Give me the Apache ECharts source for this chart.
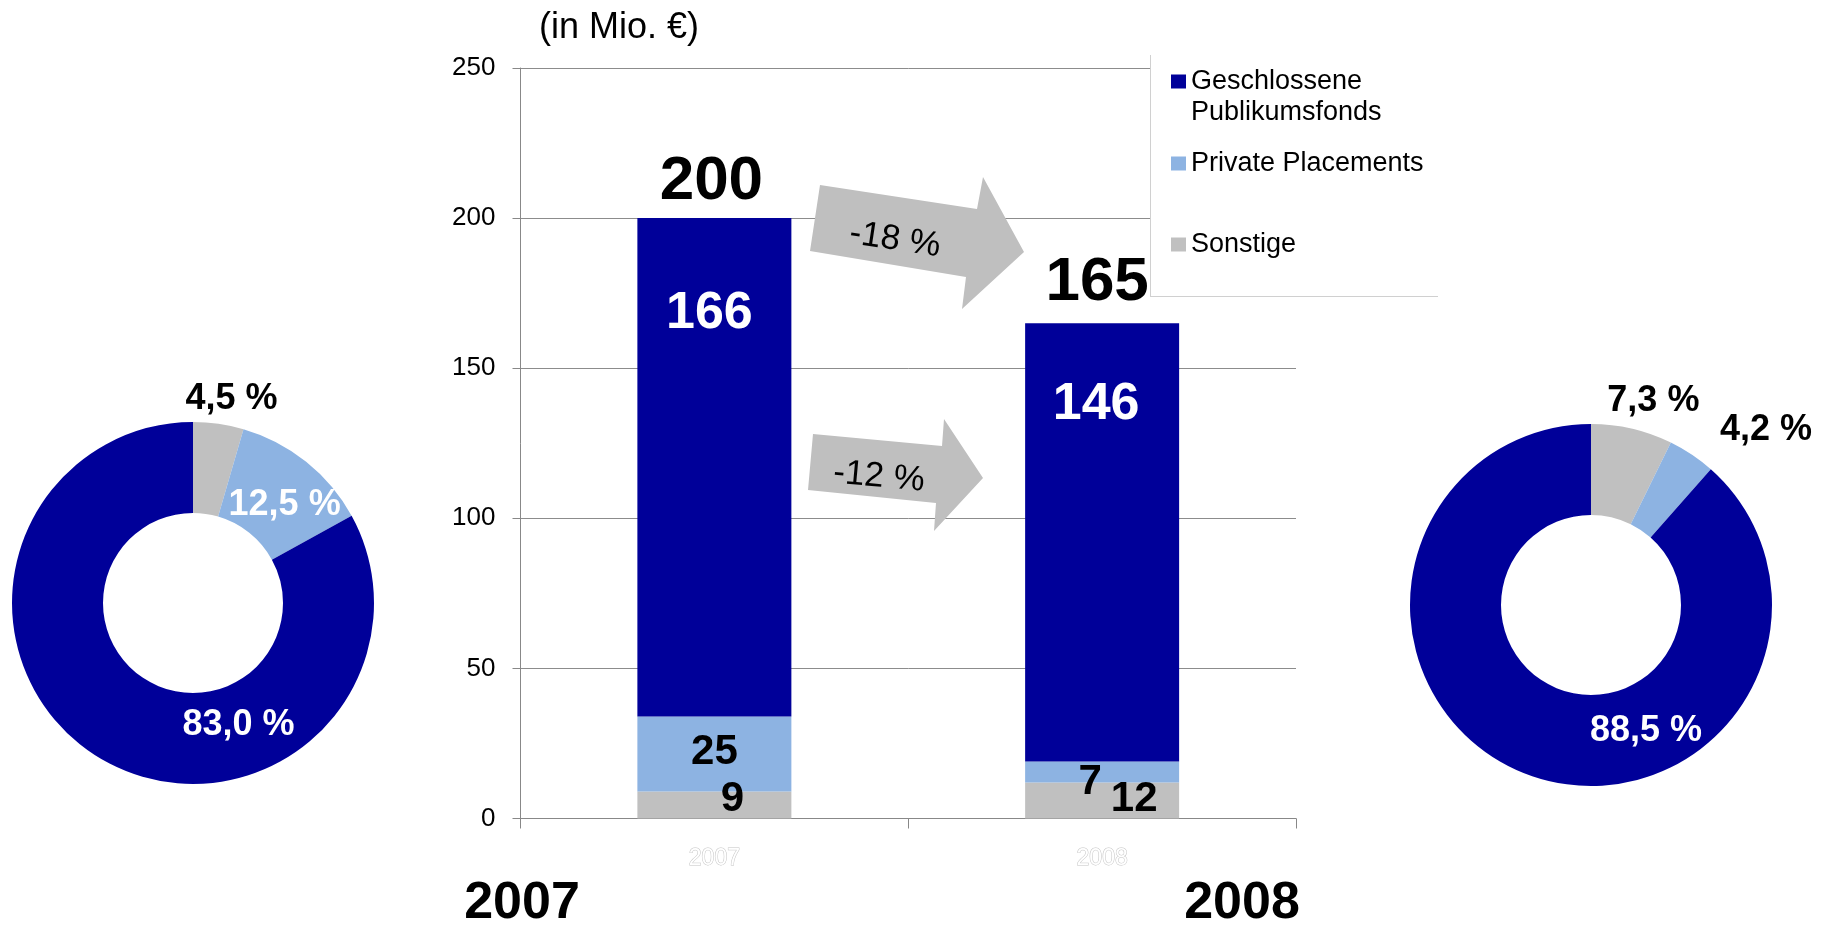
<!DOCTYPE html>
<html>
<head>
<meta charset="utf-8">
<title>Platzierungsvolumen</title>
<script src="https://cdn.jsdelivr.net/npm/echarts@6/dist/echarts.min.js"></script>
<style>
  html, body { margin: 0; padding: 0; background: #fff; }
  #main { width: 1826px; height: 927px; }
</style>
</head>
<body>
<div id="main"></div>
<script>
  // Werte in Mio. €
  var years = ['2007', '2008'];
  var seriesNames = ['Sonstige', 'Private Placements', 'Geschlossene Publikumsfonds'];
  var sonstige = [9, 12];
  var privatePlacements = [25, 7];
  var publikumsfonds = [166, 146];
  var yTicks = [0, 50, 100, 150, 200, 250];

  var colors = ['#c0c0c0', '#8db3e2', '#000099'];
  var font = '"Liberation Sans", Arial, Helvetica, sans-serif';

  var values = [sonstige, privatePlacements, publikumsfonds];
  var totals = years.map(function (y, i) {
    return sonstige[i] + privatePlacements[i] + publikumsfonds[i];
  });

  // label nudges (px), same as in the slide
  var offSonstige = [[18, -6], [32, -1]];
  var offPrivate = [[0, -2], [-12, 10]];
  var offFonds = [[-5, 10], [-6, -5]];
  var offTotal = [[-3, 0], [-5, -4]];
  var pieOffsets = [
    [[19, -67], [5, 10], [116, 3]],
    [[31, -69], [98, -60], [104, -3]]
  ];
  var pieLabelColors = [
    ['#000', '#fff', '#fff'],
    ['#000', '#000', '#fff']
  ];

  function barData (vals, offs) {
    return vals.map(function (v, i) {
      return { value: v, label: { offset: offs[i] } };
    });
  }

  function pieData (col) {
    return seriesNames.map(function (n, k) {
      return {
        name: n,
        value: values[k][col],
        itemStyle: { color: colors[k] },
        label: { color: pieLabelColors[col][k] }
      };
    });
  }

  function pct (a, b) {
    return '-' + Math.round((a - b) / a * 100) + ' %';
  }

  function donut (col, center) {
    return {
      type: 'pie',
      center: center,
      radius: [90, 181],
      startAngle: 90,
      clockwise: true,
      silent: true,
      data: pieData(col),
      itemStyle: { borderWidth: 0 },
      emphasis: { disabled: true },
      labelLine: { show: false },
      label: {
        show: true,
        position: 'inside',
        fontSize: 36,
        fontWeight: 'bold',
        fontFamily: font,
        formatter: function (p) {
          return p.percent.toFixed(1).replace('.', ',') + ' %';
        }
      },
      labelLayout: function (p) {
        var o = pieOffsets[col][p.dataIndex];
        return { dx: o[0], dy: o[1] };
      }
    };
  }

  var legendBase = {
    orient: 'vertical',
    left: 1171,
    padding: 0,
    icon: 'rect',
    itemWidth: 15,
    itemHeight: 14,
    selectedMode: false,
    z: 20,
    textStyle: { fontSize: 27, color: '#000', fontFamily: font, lineHeight: 31 }
  };

  var myChart = echarts.init(document.getElementById('main'));
  myChart.setOption({
    animation: false,
    textStyle: { fontFamily: font },
    title: {
      text: '(in Mio. €)',
      left: 539,
      top: 10,
      padding: 0,
      textStyle: { fontSize: 36, fontWeight: 'normal', color: '#000', fontFamily: font }
    },
    legend: [
      Object.assign({}, legendBase, {
        data: [seriesNames[2]],
        top: 35,
        formatter: function () { return '\nGeschlossene\nPublikumsfonds'; }
      }),
      Object.assign({}, legendBase, { data: [seriesNames[1]], top: 148 }),
      Object.assign({}, legendBase, { data: [seriesNames[0]], top: 229 })
    ],
    grid: {
      left: 520.5,
      right: 530,
      top: 68,
      bottom: 108.5,
      containLabel: false,
      outerBoundsMode: 'none'
    },
    xAxis: {
      type: 'category',
      data: years,
      axisLine: { show: true, lineStyle: { color: '#888', width: 1 } },
      axisTick: { show: true, length: 10, lineStyle: { color: '#888' } },
      axisLabel: {
        fontSize: 23,
        margin: 29,
        color: '#fff',
        textBorderColor: '#c4c4c4',
        textBorderWidth: 1,
        fontFamily: font
      },
      splitLine: { show: false }
    },
    yAxis: {
      type: 'value',
      min: yTicks[0],
      max: yTicks[yTicks.length - 1],
      interval: yTicks[1] - yTicks[0],
      axisLine: { show: true, lineStyle: { color: '#888', width: 1 } },
      axisTick: { show: true, length: 8, lineStyle: { color: '#888' } },
      axisLabel: { fontSize: 26, color: '#000', margin: 25, fontFamily: font },
      splitLine: { show: true, lineStyle: { color: '#8c8c8c', width: 1 } }
    },
    series: [
      {
        name: seriesNames[0],
        type: 'bar',
        stack: 'total',
        barWidth: 154,
        data: barData(sonstige, offSonstige),
        itemStyle: { color: colors[0] },
        label: { show: true, position: 'inside', fontSize: 42, fontWeight: 'bold', color: '#000', fontFamily: font }
      },
      {
        name: seriesNames[1],
        type: 'bar',
        stack: 'total',
        barWidth: 154,
        data: barData(privatePlacements, offPrivate),
        itemStyle: { color: colors[1] },
        label: { show: true, position: 'inside', fontSize: 42, fontWeight: 'bold', color: '#000', fontFamily: font }
      },
      {
        name: seriesNames[2],
        type: 'bar',
        stack: 'total',
        barWidth: 154,
        data: barData(publikumsfonds, offFonds),
        itemStyle: { color: colors[2] },
        label: { show: true, position: 'insideTop', distance: 60, fontSize: 52, fontWeight: 'bold', color: '#fff', fontFamily: font }
      },
      {
        // Summen über den Säulen
        name: 'Summe',
        type: 'scatter',
        silent: true,
        symbolSize: 1,
        itemStyle: { color: 'rgba(0,0,0,0)', opacity: 1 },
        data: barData(totals, offTotal),
        label: { show: true, position: 'top', distance: 5, fontSize: 62, fontWeight: 'bold', color: '#000', opacity: 1, fontFamily: font }
      },
      donut(0, [193, 603]),
      donut(1, [1591, 605])
    ],
    graphic: [
      // Legendenkasten
      { type: 'rect', z: 10, shape: { x: 1150, y: 55, width: 288, height: 242 }, style: { fill: '#fff' } },
      { type: 'line', z: 11, shape: { x1: 1150.5, y1: 55, x2: 1150.5, y2: 297 }, style: { stroke: '#d0d0d0', lineWidth: 1 } },
      { type: 'line', z: 11, shape: { x1: 1150, y1: 296.5, x2: 1438, y2: 296.5 }, style: { stroke: '#d0d0d0', lineWidth: 1 } },
      // Pfeile
      {
        type: 'polygon', z: 10,
        shape: { points: [[820, 185], [977, 209], [983, 177], [1024, 252], [962, 309], [966, 277], [810, 251]] },
        style: { fill: '#bfbfbf' }
      },
      {
        type: 'text', z: 11, x: 895, y: 240, rotation: -0.15,
        style: { text: pct(totals[0], totals[1]), align: 'center', verticalAlign: 'middle', fontSize: 35, fill: '#000', fontFamily: font }
      },
      {
        type: 'polygon', z: 10,
        shape: { points: [[813, 434], [942, 446], [944, 419], [983, 478], [934, 531], [936, 503], [808, 490]] },
        style: { fill: '#bfbfbf' }
      },
      {
        type: 'text', z: 11, x: 879, y: 477, rotation: -0.09,
        style: { text: pct(publikumsfonds[0], publikumsfonds[1]), align: 'center', verticalAlign: 'middle', fontSize: 35, fill: '#000', fontFamily: font }
      },
      // Jahreszahlen unten
      {
        type: 'text', x: 522, y: 904,
        style: { text: years[0], align: 'center', verticalAlign: 'middle', fontSize: 52, fontWeight: 'bold', fill: '#000', fontFamily: font }
      },
      {
        type: 'text', x: 1242, y: 904,
        style: { text: years[1], align: 'center', verticalAlign: 'middle', fontSize: 52, fontWeight: 'bold', fill: '#000', fontFamily: font }
      }
    ]
  });
</script>
</body>
</html>
